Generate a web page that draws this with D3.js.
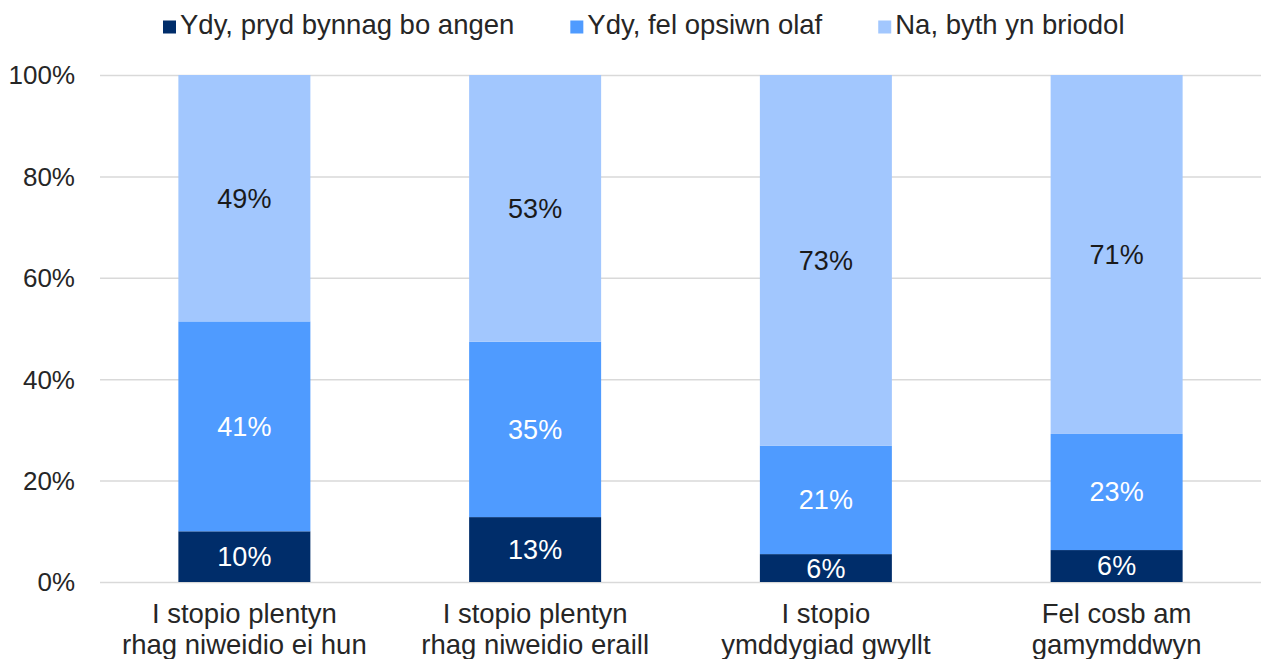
<!DOCTYPE html>
<html>
<head>
<meta charset="utf-8">
<script src="https://cdn.jsdelivr.net/npm/d3@7"></script>
<style>
  body { margin: 0; background: #fff; }
  svg text { font-family: "Liberation Sans", Arial, sans-serif; }
</style>
</head>
<body>
<div class="chart"></div>
<script>
// 100% stacked bars, values in percent
const categories = [
  ['I stopio plentyn', 'rhag niweidio ei hun'],
  ['I stopio plentyn', 'rhag niweidio eraill'],
  ['I stopio', 'ymddygiad gwyllt'],
  ['Fel cosb am', 'gamymddwyn']
];
const seriesNames = ['Ydy, pryd bynnag bo angen', 'Ydy, fel opsiwn olaf', 'Na, byth yn briodol'];
const alwaysValues = [10.0, 12.8, 5.5, 6.3];
const lastResortValues = [41.4, 34.6, 21.4, 22.9];
const neverValues = [48.6, 52.6, 73.1, 70.8];
const yTicks = [0, 20, 40, 60, 80, 100];

const colors = ['#002d6a', '#4f9bff', '#a2c7fe'];
const labelColors = ['#ffffff', '#ffffff', '#1a1a1a'];

const width = 1261;
const height = 659;
const fontSize = 27.5;

const svg = d3.select('.chart')
  .append('svg')
  .attr('width', width)
  .attr('height', height);

const rows = categories.map((c, i) => ({
  key: i,
  s0: alwaysValues[i],
  s1: lastResortValues[i],
  s2: neverValues[i]
}));

const x = d3.scaleBand()
  .domain(rows.map(d => d.key))
  .range([99, 1262])
  .paddingInner(0.546)
  .paddingOuter(0.273);

const y = d3.scaleLinear()
  .domain([0, 100])
  .range([582, 75]);

// gridlines + tick labels
const yAxis = svg.append('g')
  .attr('transform', 'translate(100,0)')
  .call(d3.axisLeft(y).tickValues(yTicks).tickSize(-(width - 100)).tickPadding(25).tickFormat(d => d + '%'));
yAxis.select('.domain').remove();
yAxis.selectAll('line').attr('stroke', '#d9d9d9').attr('stroke-width', 1.5);
yAxis.selectAll('text')
  .attr('fill', '#262626')
  .attr('font-size', 26)
  .attr('dy', '0.34em');

const stack = d3.stack().keys(['s0', 's1', 's2']);
const series = stack(rows);

const layer = svg.selectAll('g.layer')
  .data(series)
  .enter()
    .append('g')
    .attr('class', 'layer')
    .attr('fill', (d, i) => colors[i]);

layer.selectAll('rect')
  .data(d => d)
  .enter()
    .append('rect')
    .attr('x', d => x(d.data.key))
    .attr('width', x.bandwidth())
    .attr('y', d => y(d[1]))
    .attr('height', d => y(d[0]) - y(d[1]));

layer.selectAll('text')
  .data((d, i) => d.map(v => ({ v: v, i: i })))
  .enter()
    .append('text')
    .attr('x', d => x(d.v.data.key) + x.bandwidth() / 2)
    .attr('y', d => (y(d.v[0]) + y(d.v[1])) / 2)
    .attr('dy', '0.35em')
    .attr('text-anchor', 'middle')
    .attr('font-size', 27)
    .attr('fill', d => labelColors[d.i])
    .text(d => Math.round(d.v[1] - d.v[0]) + '%');

// category labels, two lines each
const catLabel = svg.append('g')
  .selectAll('text')
  .data(rows)
  .enter()
    .append('text')
    .attr('text-anchor', 'middle')
    .attr('font-size', fontSize)
    .attr('fill', '#262626')
    .attr('x', d => x(d.key) + x.bandwidth() / 2);

catLabel.append('tspan')
  .attr('x', d => x(d.key) + x.bandwidth() / 2)
  .attr('y', 623)
  .text(d => categories[d.key][0]);
catLabel.append('tspan')
  .attr('x', d => x(d.key) + x.bandwidth() / 2)
  .attr('y', 654)
  .text(d => categories[d.key][1]);

// legend
const legend = svg.append('g');
let lx = 163;
seriesNames.forEach((name, i) => {
  legend.append('rect')
    .attr('x', lx)
    .attr('y', 20.5)
    .attr('width', 13)
    .attr('height', 13)
    .attr('fill', colors[i]);
  const t = legend.append('text')
    .attr('x', lx + 17)
    .attr('y', 33.5)
    .attr('font-size', fontSize)
    .attr('fill', '#262626')
    .text(name);
  lx += 17 + t.node().getComputedTextLength() + 56;
});
</script>
</body>
</html>
